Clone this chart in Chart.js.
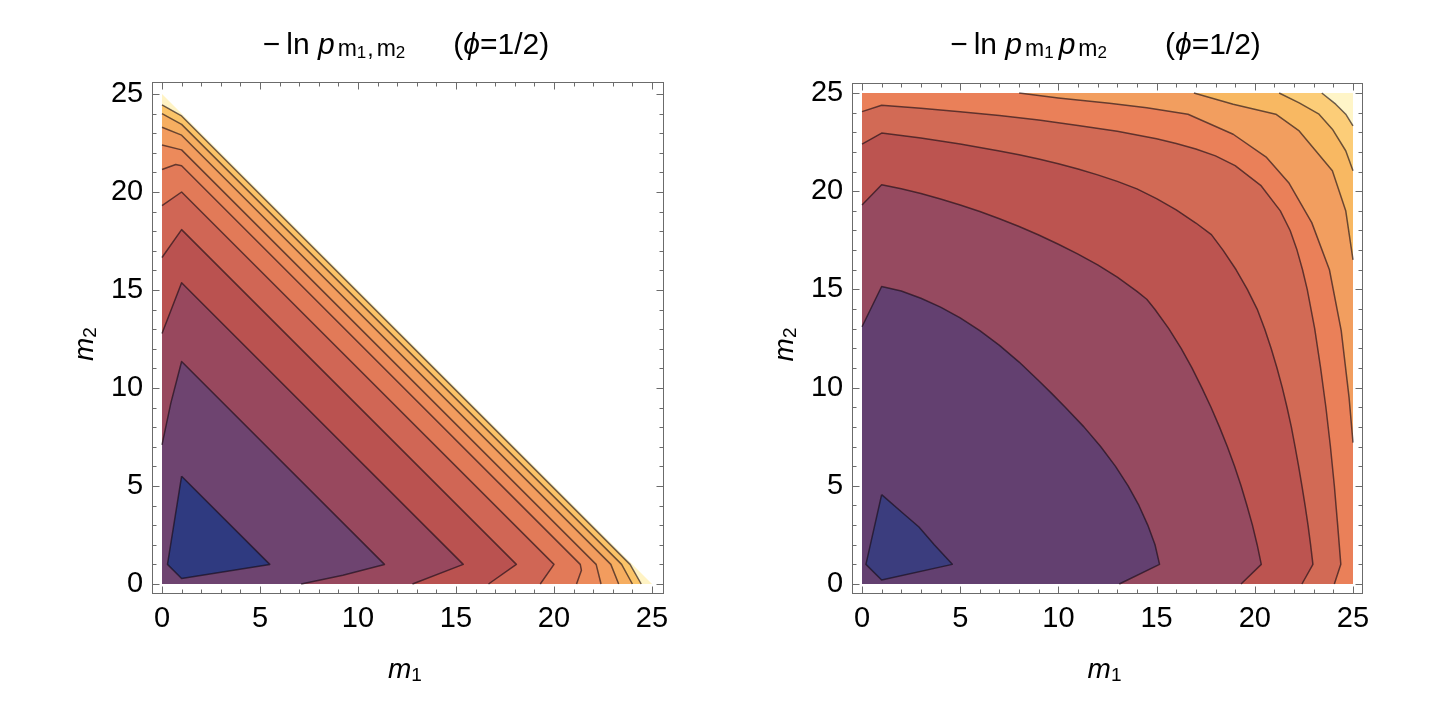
<!DOCTYPE html>
<html>
<head>
<meta charset="utf-8">
<script src="https://cdn.jsdelivr.net/npm/chart.js@4.4.1/dist/chart.umd.min.js"></script>
<style>
  html, body { margin: 0; padding: 0; background: #ffffff; }
  #wrap { position: relative; width: 1430px; height: 712px; }
  canvas { position: absolute; top: 0; }
</style>
</head>
<body>
<div id="wrap">
  <canvas id="left" width="715" height="712" style="left:0px"></canvas>
  <canvas id="right" width="715" height="712" style="left:715px"></canvas>
</div>
<script>
// ---------- tick labels ----------
const majorTicks = [0, 5, 10, 15, 20, 25];
const allTicks = [0, 1, 2, 3, 4, 5, 6, 7, 8, 9, 10, 11, 12, 13, 14, 15, 16, 17, 18, 19, 20, 21, 22, 23, 24, 25];

// ---------- left panel: -ln p(m1,m2), contour lines as [m1, m2] points ----------
const leftDomain = [[0, 0], [0, 25], [25, 0]];
const leftC1 = [[1.0, 5.5], [0.28, 1.0], [1.0, 0.28], [5.5, 1.0], [1.0, 5.5]];
const leftC2 = [[0, 7.1], [0.45, 9.23], [1, 11.35], [11.35, 1], [9.23, 0.45], [7.1, 0]];
const leftC3 = [[0, 12.78], [1, 15.37], [15.37, 1], [12.78, 0]];
const leftC4 = [[0, 16.66], [1, 18.08], [18.08, 1], [16.66, 0]];
const leftC5 = [[0, 19.3], [1, 20.0], [20.0, 1], [19.3, 0]];
const leftC6 = [[0, 21.15], [0.7, 21.4], [1, 21.34], [21.34, 1], [21.4, 0.7], [21.15, 0]];
const leftC7 = [[0, 22.4], [1, 22.15], [22.15, 1], [22.4, 0]];
const leftC8 = [[0, 23.3], [1, 22.9], [22.9, 1], [23.3, 0]];
const leftC9 = [[0, 24.0], [1, 23.45], [23.45, 1], [24.0, 0]];
const leftC10 = [[0, 24.45], [1, 23.88], [23.88, 1], [24.45, 0]];
const leftContours = [leftC1, leftC2, leftC3, leftC4, leftC5, leftC6, leftC7, leftC8, leftC9, leftC10];
const leftBandColors = ['#2f3a80', '#6e4470', '#98485e', '#ba5250', '#d06655', '#e27a58',
                        '#ec8a5b', '#f29c5e', '#f6ae60', '#fbc468', '#fff3c4'];

// ---------- right panel: -ln p(m1) p(m2) ----------
const rightDomain = [[0, 0], [0, 25], [25, 25], [25, 0]];
const rightC1 = [[1.0, 4.55], [0.2, 1.0], [1.0, 0.2], [4.6, 1.0], [3.68, 2.0], [2.9, 2.9], [2.0, 3.68], [1.0, 4.55]];
const rightC2 = [[0, 13.1], [1, 15.15], [2, 14.92], [3, 14.55], [4, 14.1], [5, 13.55], [6, 12.9], [7, 12.15],
                 [8, 11.3], [9, 10.35], [9.68, 9.68], [10.35, 9], [11.3, 8], [12.15, 7], [12.9, 6], [13.55, 5],
                 [14.1, 4], [14.55, 3], [14.92, 2], [15.15, 1], [13.1, 0]];
const rightC3 = [[0, 19.3], [1, 20.33], [2, 20.12], [3, 19.88], [4, 19.6], [5, 19.3], [6, 18.97], [7, 18.6],
                 [8, 18.2], [9, 17.77], [10, 17.3], [11, 16.8], [12, 16.25], [13, 15.62], [14, 14.9],
                 [14.5, 14.5], [14.9, 14], [15.62, 13], [16.25, 12], [16.8, 11], [17.3, 10], [17.77, 9],
                 [18.2, 8], [18.6, 7], [18.97, 6], [19.3, 5], [19.6, 4], [19.88, 3], [20.12, 2], [20.33, 1], [19.3, 0]];
const rightC4 = [[0, 22.4], [1, 22.96], [2, 22.84], [3, 22.71], [4, 22.56], [5, 22.4], [6, 22.23], [7, 22.05],
                 [8, 21.86], [9, 21.64], [10, 21.4], [11, 21.13], [12, 20.83], [13, 20.5], [14, 20.12],
                 [15, 19.62], [16, 19.05], [17, 18.38], [17.79, 17.79], [18.38, 17], [19.05, 16], [19.62, 15],
                 [20.12, 14], [20.5, 13], [20.83, 12], [21.13, 11], [21.4, 10], [21.64, 9], [21.86, 8],
                 [22.05, 7], [22.23, 6], [22.4, 5], [22.56, 4], [22.71, 3], [22.84, 2], [22.96, 1], [22.4, 0]];
const rightC5 = [[0, 24.05], [1, 24.38], [3, 24.22], [5, 24.05], [7, 23.85], [9, 23.62], [11, 23.35], [13, 23.05],
                 [15, 22.67], [16, 22.43], [17, 22.15], [18, 21.8], [19, 21.3], [20.3, 20.3], [21.3, 19],
                 [21.8, 18], [22.15, 17], [22.43, 16], [22.67, 15], [23.05, 13], [23.35, 11], [23.62, 9],
                 [23.85, 7], [24.05, 5], [24.22, 3], [24.38, 1], [24.05, 0]];
const rightC6 = [[8.0, 25], [10, 24.75], [12.6, 24.48], [14.5, 24.25], [16.6, 23.92], [18.9, 22.9], [20.6, 21.72],
                 [21.75, 20.4], [22.9, 18.4], [23.8, 16], [24.4, 12.9], [24.8, 9.5], [25, 7.2]];
const rightC7 = [[16.9, 25], [18.9, 24.43], [21.07, 23.92], [22.26, 23.07], [23.1, 22.06], [23.95, 21.04],
                 [24.63, 19.01], [25, 16.5]];
const rightC8 = [[21.24, 25], [22.26, 24.5], [23.27, 23.92], [23.95, 23.16], [24.63, 22.06], [25, 21.04]];
const rightC9 = [[23.41, 25], [24.12, 24.43], [24.63, 23.92], [25, 23.33]];
const rightContours = [rightC1, rightC2, rightC3, rightC4, rightC5, rightC6, rightC7, rightC8, rightC9];
const rightBandColors = ['#3b3d7e', '#634070', '#964a60', '#bc5450', '#d26a55', '#ea8059',
                         '#f29e5f', '#f8b862', '#fccd78', '#fff5c8'];

// ---------- helpers ----------
const FONT = '"Liberation Sans", Arial, "DejaVu Sans", sans-serif';
const toXY = a => a.map(p => ({ x: p[0], y: p[1] }));

function regionOf(c) {
  const first = c[0], last = c[c.length - 1];
  if (first[0] === last[0] && first[1] === last[1]) return c;       // closed loop
  if (last[0] === 25) return c.concat([[25, 0], [0, 0], [0, 25]]);  // touches top & right edges
  return c.concat([[0, 0]]);                                        // left edge -> bottom edge
}

function buildDatasets(domain, contours, colors) {
  const ds = [];
  const n = contours.length;
  ds.push({ data: toXY(domain), fill: 'shape', backgroundColor: colors[n], borderWidth: 0, order: n + 2 });
  contours.forEach((c, k) => {
    ds.push({ data: toXY(regionOf(c)), fill: 'shape', backgroundColor: colors[k], borderWidth: 0, order: k + 1 });
  });
  contours.forEach(c => {
    ds.push({ data: toXY(c), fill: false, borderColor: 'rgba(20,10,20,0.62)', borderWidth: 1.5,
              borderJoinStyle: 'round', order: 0 });
  });
  return ds;
}

function segFont(s) { return (s.i ? 'italic ' : '') + s.s + 'px ' + FONT; }

function drawRich(ctx, segs, x, y, rot) {
  let w = 0;
  segs.forEach(s => {
    if (s.g) { s.w = s.g; } else { ctx.font = segFont(s); s.w = ctx.measureText(s.t).width; }
    w += s.w;
  });
  ctx.save();
  ctx.translate(x, y);
  if (rot) ctx.rotate(rot);
  ctx.fillStyle = '#000';
  ctx.textBaseline = 'alphabetic';
  ctx.textAlign = 'left';
  let cx = -w / 2;
  segs.forEach(s => {
    if (!s.g) { ctx.font = segFont(s); ctx.fillText(s.t, cx, s.dy || 0); }
    cx += s.w;
  });
  ctx.restore();
}

function makeDecor(titleSegs, xLabSegs, yLabSegs) {
  return {
    id: 'decor',
    afterDraw(chart) {
      const { ctx, chartArea: a, scales } = chart;
      const sx = scales.x, sy = scales.y;
      ctx.save();
      ctx.strokeStyle = '#6b6b6b';
      ctx.lineWidth = 1;
      const L = Math.round(a.left) + 0.5, R = Math.round(a.right) - 0.5;
      const T = Math.round(a.top) + 0.5, B = Math.round(a.bottom) - 0.5;
      ctx.strokeRect(L, T, R - L, B - T);
      ctx.beginPath();
      allTicks.forEach(v => {
        const len = majorTicks.includes(v) ? 7 : 4;
        const px = Math.round(sx.getPixelForValue(v)) + 0.5;
        ctx.moveTo(px, B); ctx.lineTo(px, B - len);
        ctx.moveTo(px, T); ctx.lineTo(px, T + len);
        const py = Math.round(sy.getPixelForValue(v)) + 0.5;
        ctx.moveTo(L, py); ctx.lineTo(L + len, py);
        ctx.moveTo(R, py); ctx.lineTo(R - len, py);
      });
      ctx.stroke();
      ctx.restore();
      const cx = (a.left + a.right) / 2, cy = (a.top + a.bottom) / 2;
      drawRich(ctx, titleSegs, cx - 2, 53.5);
      drawRich(ctx, xLabSegs, cx - 3, a.bottom + 84);
      drawRich(ctx, yLabSegs, a.left - 59, cy + 6, -Math.PI / 2);
    }
  };
}

function makeChart(id, domain, contours, colors, axMax, pad, titleSegs, xLab, yLab) {
  const scaleBase = (isX) => ({
    type: 'linear',
    min: -0.5,
    max: axMax,
    afterBuildTicks: axis => { axis.ticks = allTicks.map(v => ({ value: v })); },
    afterFit: axis => { if (isX) axis.height = 60; else axis.width = 60; },
    grid: { display: false, drawTicks: false },
    border: { display: false },
    ticks: {
      autoSkip: false, maxRotation: 0, padding: isX ? 8 : 9, color: '#000',
      font: { family: FONT, size: 29 },
      callback: v => majorTicks.includes(v) ? String(v) : ''
    }
  });
  return new Chart(document.getElementById(id), {
    type: 'line',
    data: { datasets: buildDatasets(domain, contours, colors) },
    options: {
      responsive: false,
      animation: false,
      events: [],
      layout: { padding: pad },
      elements: { point: { radius: 0 }, line: { tension: 0 } },
      scales: { x: scaleBase(true), y: scaleBase(false) },
      plugins: { legend: { display: false }, tooltip: { enabled: false } }
    },
    plugins: [makeDecor(titleSegs, xLab, yLab)]
  });
}

const xLabel = [{ t: 'm', s: 28, i: true }, { t: '1', s: 19, dy: 3 }];
const yLabel = [{ t: 'm', s: 28, i: true }, { t: '2', s: 19, dy: 3 }];

const leftTitle = [
  { t: '\u2212', s: 30 }, { g: 6 }, { t: 'ln ', s: 30 }, { t: 'p', s: 30, i: true }, { g: 3 },
  { t: 'm', s: 23, dy: 2 }, { t: '1', s: 17, dy: 4 }, { g: 1 }, { t: ',', s: 23, dy: 2 }, { g: 3 },
  { t: 'm', s: 23, dy: 2 }, { t: '2', s: 17, dy: 4 },
  { g: 48 }, { t: '(', s: 30 }, { t: '\u03D5', s: 30, i: true }, { t: '=1/2)', s: 30 }
];
const rightTitle = [
  { t: '\u2212', s: 30 }, { g: 6 }, { t: 'ln ', s: 30 }, { t: 'p', s: 30, i: true }, { g: 3 },
  { t: 'm', s: 23, dy: 2 }, { t: '1', s: 17, dy: 4 }, { g: 5 },
  { t: 'p', s: 30, i: true }, { g: 3 },
  { t: 'm', s: 23, dy: 2 }, { t: '2', s: 17, dy: 4 },
  { g: 58 }, { t: '(', s: 30 }, { t: '\u03D5', s: 30, i: true }, { t: '=1/2)', s: 30 }
];

// paddings chosen so that m=0 and m=25 fall on whole pixels
makeChart('left', leftDomain, leftContours, leftBandColors, 25.6,
          { left: 92.2, right: 51.24, top: 82.24, bottom: 58.2 }, leftTitle, xLabel, yLabel);
makeChart('right', rightDomain, rightContours, rightBandColors, 25.5,
          { left: 77.18, right: 67.18, top: 83.18, bottom: 58.18 }, rightTitle, xLabel, yLabel);
</script>
</body>
</html>
